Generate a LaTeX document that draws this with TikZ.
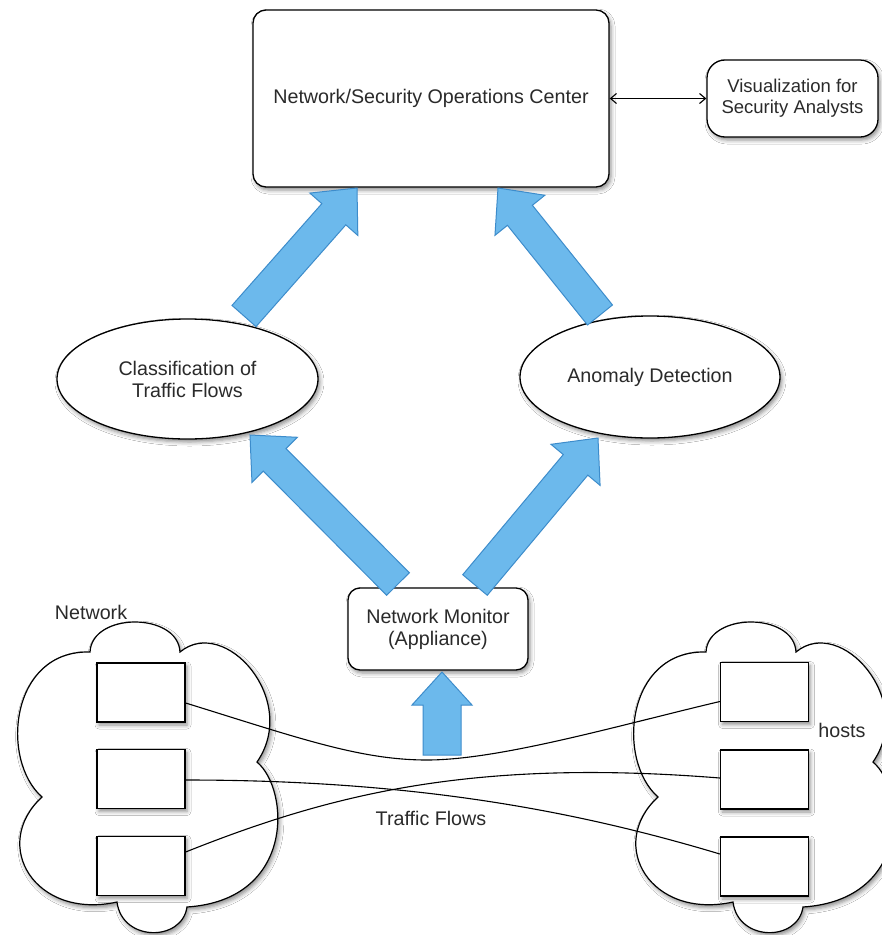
\documentclass[tikz,border=0pt]{standalone}
\usepackage{fontspec}
\setmainfont{Liberation Sans}
\usetikzlibrary{calc,shapes.geometric,shadows.blur,arrows.meta}

\definecolor{flowblue}{HTML}{6CB9EC}
\definecolor{flowedge}{HTML}{3D8CCB}
\definecolor{inkgray}{HTML}{2A2A2A}

% wide blue arrow: #1 tail, #2 tip, #3 half shaft width, #4 half head width, #5 head length
\newcommand\blockarrow[5]{%
  \coordinate (ba-neck) at ($(#2)!#5!(#1)$);
  \draw[flowarrow]
    ($(#1)!#3!90:(#2)$) -- ($(ba-neck)!#3!90:(#2)$) -- ($(ba-neck)!#4!90:(#2)$)
    -- (#2)
    -- ($(ba-neck)!#4!-90:(#2)$) -- ($(ba-neck)!#3!-90:(#2)$) -- ($(#1)!#3!-90:(#2)$)
    -- cycle;
}

\tikzset{
  softshadow/.style={blur shadow={shadow xshift=2pt, shadow yshift=-3pt,
      shadow blur radius=4pt, shadow opacity=45}},
  txt/.style={text=inkgray, font=\fontsize{19.7}{22}\selectfont, align=center, inner sep=0pt},
  roundbox/.style={draw=black, line width=1.3pt, fill=white, rounded corners=13pt,
      softshadow, txt},
  ovalnode/.style={ellipse, draw=black, line width=1.3pt, fill=white, softshadow, txt},
  hostbox/.style={draw=black, line width=1.3pt, fill=white, minimum width=88pt,
      minimum height=59pt, softshadow},
  flowline/.style={draw=black, line width=1.1pt},
  flowarrow/.style={draw=flowedge, line width=1pt, fill=flowblue, line join=miter},
  cloudshape/.pic={
    \draw[line width=1.2pt, fill=white, softshadow]
      (90,652) .. controls (92,612) and (178,612) .. (180,652)
      .. controls (225,615) and (300,700) .. (257,762)
      .. controls (290,790) and (295,900) .. (187,907)
      .. controls (182,942) and (122,942) .. (117,902)
      .. controls (35,920) and (-10,845) .. (42,797)
      .. controls (0,760) and (10,650) .. (90,652) -- cycle;
  }
}

\begin{document}
\begin{tikzpicture}[x=1pt, y=-1pt]
  \useasboundingbox[fill=white] (0,0) rectangle (882,935);

  % the two networks
  \pic at (0,0) {cloudshape};
  \pic at (616,0) {cloudshape};

  % hosts on either side
  \node[hostbox] (l1) at (141,692.5) {};
  \node[hostbox] (l2) at (141,779) {};
  \node[hostbox] (l3) at (141,866) {};
  \node[hostbox] (r1) at (764.5,692) {};
  \node[hostbox] (r2) at (764.5,779.5) {};
  \node[hostbox] (r3) at (764.5,866.5) {};

  % traffic flows between the hosts
  \draw[flowline] ([yshift=-10.5pt]l1.east)
    .. controls +(113,35) and (360,760) .. (427,760)
    .. controls (500,760) and (620,725) .. ([yshift=-9.5pt]r1.west);
  \draw[flowline] ([yshift=-1pt]l2.east)
    .. controls +(233,0) and +(-140,-42) .. ([yshift=12.5pt]r3.west);
  \draw[flowline] ([yshift=14pt]l3.east)
    .. controls +(143,-57) and +(-250,-20) .. ([yshift=1.5pt]r2.west);

  \node[txt] (netlbl) at (91,612) {Network};
  \node[txt] (hostlbl) at (842,730) {hosts};
  \node[txt] (flowlbl) at (431,818) {Traffic Flows};

  % processing stages
  \node[roundbox, minimum width=356pt, minimum height=177pt] (noc) at (431,98.5)
    {Network/Security Operations Center};
  \node[roundbox, rounded corners=18pt, minimum width=171pt, minimum height=77pt,
        font=\fontsize{18.5}{21}\selectfont] (vis)
    at (792.5,98.5) {Visualization for\\Security Analysts};
  \node[ovalnode, minimum width=261pt, minimum height=120pt] (cls) at (187.5,379)
    {Classification of\\Traffic Flows};
  \node[ovalnode, minimum width=260pt, minimum height=122pt] (anom) at (650,377)
    {Anomaly Detection};
  \node[roundbox, rounded corners=12pt, minimum width=180pt, minimum height=82pt] (mon)
    at (438,629) {Network Monitor\\(Appliance)};

  \draw[{Straight Barb[length=6pt,width=10pt]}-{Straight Barb[length=6pt,width=10pt]},
        line width=1.1pt] (noc.east) -- (vis.west);

  % data paths
  \coordinate (m-in) at (442,755);
  \coordinate (m-top) at (442,672);
  \coordinate (m-left) at (398,584);
  \coordinate (c-bot) at (250,435);
  \coordinate (m-right) at (475,585);
  \coordinate (a-bot) at (598,438);
  \coordinate (c-top) at (244,316);
  \coordinate (n-left) at (357,188);
  \coordinate (a-top) at (600,315);
  \coordinate (n-right) at (498,188);

  \blockarrow{m-in}{m-top}{19pt}{30pt}{33pt}
  \blockarrow{m-left}{c-bot}{16pt}{32pt}{35pt}
  \blockarrow{m-right}{a-bot}{16pt}{32pt}{35pt}
  \blockarrow{c-top}{n-left}{16pt}{32pt}{35pt}
  \blockarrow{a-top}{n-right}{16pt}{32pt}{35pt}
\end{tikzpicture}
\end{document}
